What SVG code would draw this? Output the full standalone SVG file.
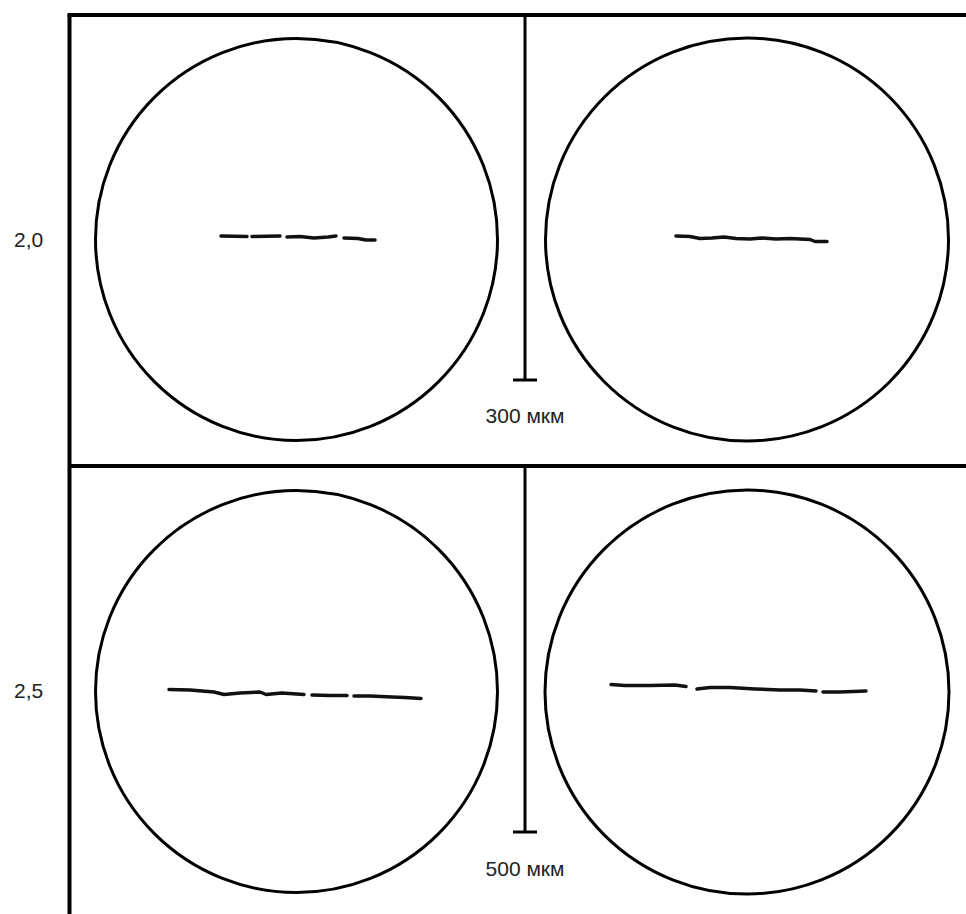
<svg xmlns="http://www.w3.org/2000/svg" width="966" height="914" viewBox="0 0 966 914">
<style>
.frame{stroke:#000;stroke-width:4;fill:none}
.bar{stroke:#000;stroke-width:3;fill:none}
.circ{stroke:#000;stroke-width:3;fill:none}
.fib{stroke:#111;stroke-width:3.5;fill:none;stroke-linecap:round;stroke-linejoin:round}
.lbl{font-family:"Liberation Sans",Arial,sans-serif;font-size:21px;fill:#222}
</style>
<rect width="966" height="914" fill="#fff"/>
<g id="frame">
<line class="frame" x1="69.5" y1="15" x2="69.5" y2="914"/>
<line class="frame" x1="67.5" y1="15" x2="966" y2="15"/>
<line class="frame" x1="69.5" y1="466" x2="966" y2="466"/>
</g>
<g id="scale-top">
<line class="bar" x1="525" y1="15" x2="525" y2="380"/>
<line class="bar" x1="513" y1="380" x2="537" y2="380"/>
<text class="lbl" x="525" y="423" text-anchor="middle">300 мкм</text>
</g>
<g id="scale-bottom">
<line class="bar" x1="525" y1="466" x2="525" y2="832"/>
<line class="bar" x1="513" y1="832" x2="537" y2="832"/>
<text class="lbl" x="525" y="876" text-anchor="middle">500 мкм</text>
</g>
<g id="row-labels">
<text class="lbl" x="14" y="247">2,0</text>
<text class="lbl" x="14" y="698">2,5</text>
</g>
<g id="view-tl">
<circle class="circ" cx="296.5" cy="239.5" r="201"/>
<path class="fib" d="M221 236 L247 236.5"/>
<path class="fib" d="M252 236.5 L280 236"/>
<path class="fib" d="M287 237 L300 236.5 L314 238 L328 237 L336 236"/>
<path class="fib" d="M344 238 L358 238.5 L366 240 L375 240"/>
</g>
<g id="view-tr">
<circle class="circ" cx="747" cy="239.5" r="201.5"/>
<path class="fib" d="M676 236 L690 236.5 L700 238.5 L712 238 L724 237 L736 238.5 L750 239 L762 238 L776 239 L790 238.5 L810 239.5 L815 241.5 L827 241.5"/>
</g>
<g id="view-bl">
<circle class="circ" cx="296.5" cy="691.5" r="201"/>
<path class="fib" d="M169 689.5 L190 690 L214 692 L224 694.5 L240 693 L260 692 L266 694.5 L282 693 L304 694.5"/>
<path class="fib" d="M312 695 L330 695.5 L347 695.5"/>
<path class="fib" d="M354 696 L370 696 L392 697 L405 697.5 L421 698.5"/>
</g>
<g id="view-br">
<circle class="circ" cx="747" cy="692" r="202"/>
<path class="fib" d="M611 684.5 L625 685.5 L650 685.5 L675 685 L686 686.5"/>
<path class="fib" d="M697 689 L710 687.5 L730 687.5 L755 689 L780 690 L800 690 L816 691"/>
<path class="fib" d="M823 692 L840 692 L866 691"/>
</g>
</svg>
